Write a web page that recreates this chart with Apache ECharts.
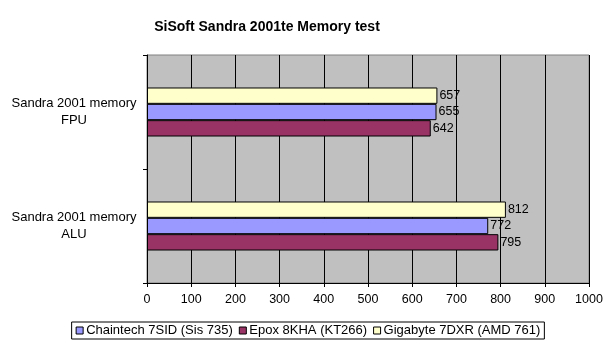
<!DOCTYPE html>
<html>
<head>
<meta charset="utf-8">
<script src="https://cdn.jsdelivr.net/npm/echarts@6/dist/echarts.min.js"></script>
<style>
  html, body { margin: 0; padding: 0; background: #fff; }
  #chart { width: 616px; height: 352px; }
</style>
</head>
<body>
<div id="chart"></div>
<script>
// categories bottom -> top (echarts category yAxis starts at the bottom)
const categories = ['Sandra 2001 memory\nALU', 'Sandra 2001 memory\nFPU'];
const epox = [795, 642];
const chaintech = [772, 655];
const gigabyte = [812, 657];
const legendOrder = ['Chaintech 7SID (Sis 735)', 'Epox 8KHA (KT266)', 'Gigabyte 7DXR (AMD 761)'];

const font = 'Arial, "Liberation Sans", sans-serif';

function bar(name, data, color) {
  return {
    name, type: 'bar', data,
    barGap: '0%', barCategoryGap: '57%',
    itemStyle: { color, borderColor: '#000', borderWidth: 1 },
    label: { show: true, position: 'right', distance: 2, color: '#000', fontSize: 12.5, fontFamily: font },
    emphasis: { disabled: true }
  };
}

const chart = echarts.init(document.getElementById('chart'), null, { renderer: 'canvas' });
chart.setOption({
  backgroundColor: '#fff',
  animation: false,
  title: {
    text: 'SiSoft Sandra 2001te Memory test',
    left: 262, top: 15, textAlign: 'center',
    textStyle: { fontSize: 14, fontWeight: 'bold', color: '#000', fontFamily: font }
  },
  grid: {
    left: 147, right: 27, top: 55, bottom: 69,
    show: true, backgroundColor: '#C0C0C0', borderColor: '#808080', borderWidth: 1
  },
  legend: {
    data: legendOrder,
    left: 'center', top: 322,
    orient: 'horizontal',
    icon: 'rect', itemWidth: 7, itemHeight: 7, itemGap: 6,
    padding: [2, 4, 2, 4],
    borderColor: '#000', borderWidth: 1,
    textStyle: { fontSize: 13, color: '#000', fontFamily: font, padding: [0, 0, 0, -2] },
    itemStyle: { borderColor: '#000', borderWidth: 1 }
  },
  xAxis: {
    type: 'value', min: 0, max: 1000, interval: 100,
    axisLine: { show: true, lineStyle: { color: '#000' } },
    axisTick: { show: true, length: 4, lineStyle: { color: '#000' } },
    axisLabel: { color: '#000', fontSize: 12.5, fontFamily: font, margin: 10, formatter: v => String(v) },
    splitLine: { show: true, lineStyle: { color: '#000', width: 1 } }
  },
  yAxis: {
    type: 'category', data: categories,
    axisLine: { show: true, lineStyle: { color: '#000' } },
    axisTick: { show: true, length: 4, lineStyle: { color: '#000' } },
    axisLabel: { color: '#000', fontSize: 13, fontFamily: font, align: 'center', margin: 73, lineHeight: 17 },
    splitLine: { show: false }
  },
  // series listed top -> bottom within each category
  series: [
    bar('Gigabyte 7DXR (AMD 761)', gigabyte, '#FFFFCC'),
    bar('Chaintech 7SID (Sis 735)', chaintech, '#9999FF'),
    bar('Epox 8KHA (KT266)', epox, '#993366')
  ]
});
</script>
</body>
</html>
